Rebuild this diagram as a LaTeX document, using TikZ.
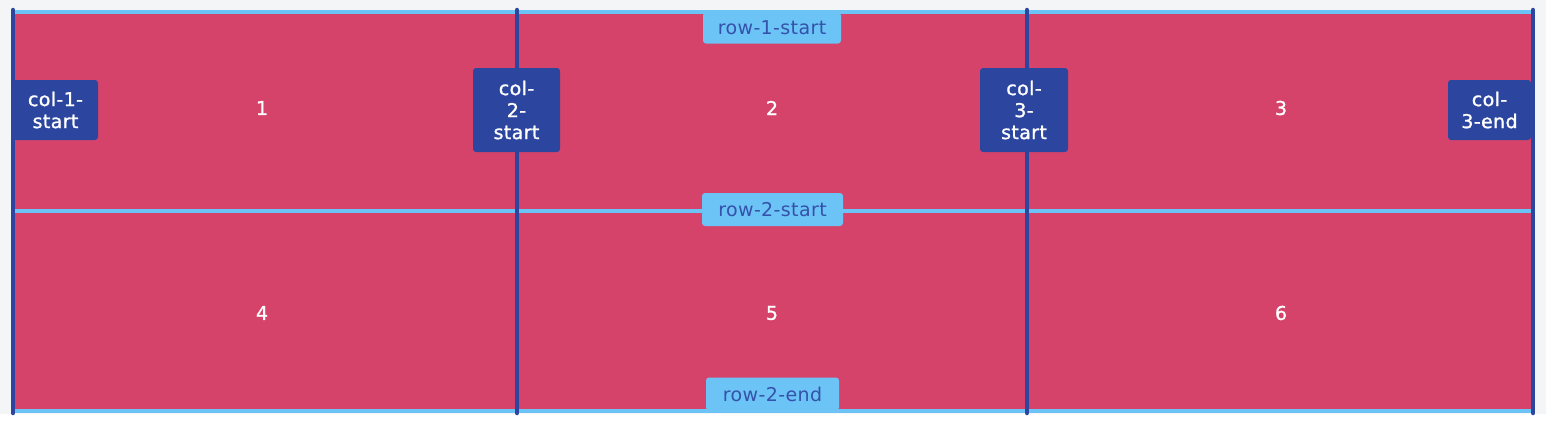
\documentclass[tikz,border=0pt]{standalone}
\usepackage{fontspec}
\setmainfont{DejaVu Sans}
\newfontfamily\labelfont[FakeBold=1.2,LetterSpace=2]{DejaVu Sans}
\newfontfamily\rowfont[LetterSpace=2]{DejaVu Sans}
\definecolor{cellred}{RGB}{214,67,106}
\definecolor{lineblue}{RGB}{44,70,160}
\definecolor{rowblue}{RGB}{108,195,245}
\definecolor{rowtext}{RGB}{52,82,170}
\definecolor{pagegray}{RGB}{244,245,247}
\tikzset{
  colbox/.style={fill=lineblue, text=white, rounded corners=3pt, align=center,
    inner sep=0pt, font=\labelfont\fontsize{19}{22}\selectfont},
  rowbox/.style={fill=rowblue, text=rowtext, rounded corners=3pt, inner sep=0pt,
    font=\rowfont\fontsize{19}{22}\selectfont},
  cellnum/.style={text=white, font=\labelfont\fontsize{19}{22}\selectfont},
  rowline/.style={rowblue, line width=4.5pt},
  colline/.style={lineblue, line width=4.5pt, line cap=round},
}
\begin{document}
\begin{tikzpicture}[x=1pt,y=-1pt]
    \useasboundingbox (0,0) rectangle (1546,424);
    \fill[pagegray] (0,0) rectangle (1546,414);
    \fill[white] (0,414) rectangle (1546,424);

    % grid corners
    \coordinate (a1) at (13,12);   \coordinate (a4) at (1533,12);
    \coordinate (b1) at (13,211);  \coordinate (b4) at (1533,211);
    \coordinate (c1) at (13,411);  \coordinate (c4) at (1533,411);
    \coordinate (t2) at (517,10);  \coordinate (u2) at (517,413);
    \coordinate (t3) at (1027,10); \coordinate (u3) at (1027,413);
    \coordinate (t1) at (13,10);   \coordinate (u1) at (13,413);
    \coordinate (t4) at (1533,10); \coordinate (u4) at (1533,413);

    \fill[cellred] (a1) rectangle (c4);

    \draw[rowline] (b1) -- (b4);

    \node[rowbox, minimum width=138, minimum height=31] (row1s) at (772,28) {row-1-start};
    \node[rowbox, minimum width=141, minimum height=33] (row2s) at (772.5,209.5) {row-2-start};
    \node[rowbox, minimum width=133, minimum height=33] (row2e) at (772.5,394) {row-2-end};

    \draw[rowline] (a1) -- (a4);
    \draw[rowline] (c1) -- (c4);

    \draw[colline] (t1) -- (u1);
    \draw[colline] (t2) -- (u2);
    \draw[colline] (t3) -- (u3);
    \draw[colline] (t4) -- (u4);

    \node[colbox, minimum width=85, minimum height=60] (col1s) at (55.5,110) {col-1-\\start};
    \node[colbox, minimum width=87, minimum height=84] (col2s) at (516.5,110) {col-\\2-\\start};
    \node[colbox, minimum width=88, minimum height=84] (col3s) at (1024,110) {col-\\3-\\start};
    \node[colbox, minimum width=83, minimum height=60] (col3e) at (1489.5,110) {col-\\3-end};

    \node[cellnum] (n1) at (262,108) {1};
    \node[cellnum] (n2) at (772,108) {2};
    \node[cellnum] (n3) at (1281,108) {3};
    \node[cellnum] (n4) at (262,313) {4};
    \node[cellnum] (n5) at (772,313) {5};
    \node[cellnum] (n6) at (1281,313) {6};
\end{tikzpicture}
\end{document}
